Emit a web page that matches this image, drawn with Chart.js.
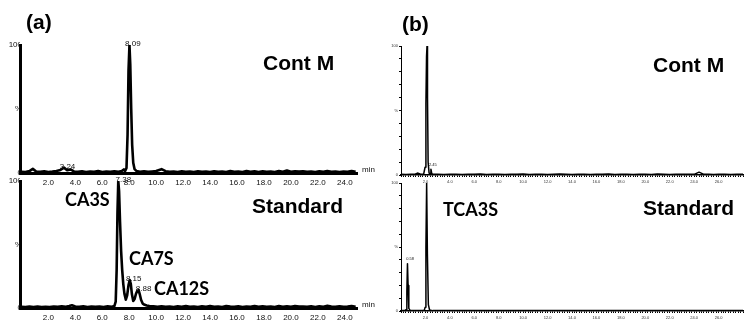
<!DOCTYPE html>
<html>
<head>
<meta charset="utf-8">
<script src="https://cdn.jsdelivr.net/npm/chart.js@4.4.1/dist/chart.umd.min.js"></script>
<style>
html,body{margin:0;padding:0;background:#fff;}
#wrap{position:relative;width:744px;height:327px;overflow:hidden;background:#fff;}
#wrap canvas{position:absolute;left:0;top:0;}
.lbl{position:absolute;white-space:nowrap;line-height:1;color:#000;}
.ar{font-family:"Liberation Sans",Arial,sans-serif;font-weight:bold;font-size:21px;}
.ca{font-family:Lato,"Open Sans",sans-serif;font-weight:bold;font-size:18px;}
</style>
</head>
<body>
<div id="wrap">
<canvas id="aTop" width="744" height="327"></canvas>
<canvas id="aBot" width="744" height="327"></canvas>
<canvas id="bTop" width="744" height="327"></canvas>
<canvas id="bBot" width="744" height="327"></canvas>
<div class="lbl ar" style="left:26px;top:11px;">(a)</div>
<div class="lbl ar" style="left:402px;top:13px;">(b)</div>
<div class="lbl ar" style="left:263px;top:52px;">Cont M</div>
<div class="lbl ar" style="left:252px;top:195px;">Standard</div>
<div class="lbl ar" style="left:653px;top:54px;">Cont M</div>
<div class="lbl ar" style="left:643px;top:197px;">Standard</div>
<div class="lbl ca" style="left:65px;top:190px;">CA3S</div>
<div class="lbl ca" style="left:129px;top:249px;">CA7S</div>
<div class="lbl ca" style="left:154px;top:279px;">CA12S</div>
<div class="lbl ca" style="left:443px;top:200px;">TCA3S</div>
</div>
<script>
// ---------- DATA ----------
// (a) Cont M chromatogram (time in min, signal in %)
const contA_time = [0,0.3,0.6,0.85,1.1,1.4,1.7,2.0,2.3,2.6,2.9,3.16,3.4,3.65,3.9,4.2,4.5,4.8,5.1,5.4,5.7,6.0,6.3,6.6,6.9,7.2,7.45,7.6,7.7,7.8,7.88,7.95,8.02,8.08,8.15,8.22,8.3,8.4,8.55,8.8,9.1,9.4,9.7,10.0,10.4,10.7,11.0,11.3,11.6,11.9,12.2,12.5,12.8,13.1,13.4,13.7,14.0,14.3,14.6,14.9,15.2,15.5,15.8,16.1,16.4,16.7,17.0,17.3,17.6,17.9,18.2,18.5,18.8,19.1,19.4,19.7,20.0,20.3,20.6,20.9,21.2,21.5,21.8,22.1,22.4,22.7,23.0,23.3,23.6,23.9,24.2,24.5,24.8];
const contA_signal = [1.0,0.8,1.5,3.2,1.2,0.9,1.3,0.8,1.1,1.6,2.4,4.2,2.2,2.8,1.2,0.9,1.4,0.8,1.2,0.9,1.5,0.8,1.2,0.9,1.4,1.0,1.6,2.8,1.5,4,30,80,100,85,50,22,8,3,1.5,1.0,1.3,0.9,1.2,1.5,3.0,1.4,0.9,1.2,0.8,1.3,0.9,1.1,0.7,1.3,0.9,1.2,0.8,1.4,0.9,1.1,0.8,1.5,0.9,1.2,0.8,1.6,1.0,1.3,0.8,1.4,1.0,1.2,0.8,1.5,1.0,1.9,0.9,1.4,1.1,1.3,0.9,1.2,0.8,1.3,0.9,1.6,1.0,1.2,0.8,1.1,0.9,1.6,1.0];
const contA_peakTimes = [8.09,3.24];
const contA_peakHeights = [100,4.2];

// (a) Standard chromatogram
const stdA_time = [0,0.3,0.6,0.9,1.2,1.5,1.8,2.1,2.4,2.7,3.0,3.3,3.55,3.75,4.0,4.3,4.6,4.9,5.2,5.5,5.8,6.1,6.4,6.7,6.9,7.0,7.07,7.13,7.19,7.25,7.32,7.4,7.48,7.56,7.65,7.75,7.85,7.95,8.04,8.12,8.2,8.3,8.4,8.5,8.6,8.7,8.78,8.88,9.0,9.15,9.3,9.5,9.8,10.1,10.4,10.7,11.0,11.3,11.6,11.9,12.2,12.5,12.8,13.1,13.4,13.7,14.0,14.3,14.6,14.9,15.2,15.5,15.8,16.1,16.4,16.7,17.0,17.3,17.6,17.9,18.2,18.5,18.8,19.1,19.4,19.7,20.0,20.3,20.6,20.9,21.2,21.5,21.8,22.1,22.4,22.7,23.0,23.3,23.6,23.9,24.2,24.5,24.8];
const stdA_signal = [0.9,0.7,1.1,0.8,1.2,0.7,1.0,0.8,1.2,0.9,1.3,1.0,1.6,2.2,1.2,0.9,1.3,0.8,1.1,0.9,1.2,0.8,1.3,1.0,1.5,5,30,75,100,92,68,45,30,19,11,6.5,10,18,22,19,11,5.5,7,11,13.5,14,11,6.5,3.5,2.5,2.0,1.6,1.3,1.0,1.4,0.9,1.2,0.8,1.3,1.0,1.5,0.9,1.2,0.8,1.4,1.0,1.6,0.9,1.2,0.8,1.5,1.1,0.9,1.4,0.8,1.2,1.0,1.6,0.9,1.3,1.0,1.2,0.8,1.5,1.0,1.3,0.9,1.6,1.1,1.2,0.9,1.4,0.8,1.3,1.0,1.7,1.2,0.9,1.4,1.0,1.2,1.6,1.0];
const stdA_peakTimes = [7.38,8.15,8.88];
const stdA_peakHeights = [100,22,14];

// (b) Cont M chromatogram
const contB_time = [0,0.4,0.8,1.1,1.39,1.6,1.85,1.97,2.04,2.09,2.13,2.17,2.22,2.3,2.38,2.45,2.52,2.65,3.0,3.5,4.0,4.5,5.0,5.5,6.0,6.5,7.0,7.5,8.0,8.5,9.0,9.5,10.0,10.5,11.0,11.5,12.0,12.5,13.0,13.5,14.0,14.5,15.0,15.5,16.0,16.5,17.0,17.5,18.0,18.5,19.0,19.5,20.0,20.5,21.0,21.5,22.0,22.5,23.0,23.5,24.0,24.4,24.8,25.2,25.6,26.0,26.5,27.0,27.5,28.0];
const contB_signal = [0.5,0.4,0.6,0.5,1.5,0.6,0.5,6,55,92,100,60,10,1.5,1.0,4.5,1.0,0.5,0.6,0.4,0.6,0.5,0.4,0.6,0.5,0.7,0.4,0.6,0.5,0.4,0.6,0.5,0.7,0.4,0.5,0.6,0.4,0.5,0.7,0.5,0.4,0.6,0.5,0.4,0.6,0.5,0.7,0.4,0.6,0.5,0.4,0.6,0.5,0.4,0.7,0.5,0.4,0.6,0.5,0.6,0.5,2.2,0.5,0.6,0.4,0.5,0.6,0.4,0.5,0.5];
const contB_peakTimes = [2.45];
const contB_peakHeights = [4.5];

// (b) Standard chromatogram
const stdB_time = [0,0.3,0.42,0.48,0.53,0.58,0.64,0.75,1.0,1.5,1.9,1.98,2.04,2.1,2.16,2.24,2.34,2.6,3.0,3.5,4.0,5.0,6.0,7.0,8.0,9.0,10.0,11.0,12.0,13.0,14.0,15.0,16.0,17.0,18.0,19.0,20.0,21.0,22.0,23.0,24.0,25.0,26.0,27.0,28.0];
const stdB_signal = [0.3,0.3,1,15,37,20,2,0.5,0.3,0.3,0.4,3,50,100,45,5,0.8,0.3,0.3,0.4,0.3,0.4,0.3,0.4,0.3,0.4,0.3,0.4,0.3,0.4,0.3,0.4,0.3,0.4,0.3,0.4,0.3,0.4,0.3,0.4,0.3,0.4,0.3,0.4,0.3];
const stdB_peakTimes = [0.58];
const stdB_peakHeights = [37];

// axis tick label values
const aTimeLabels = [2,4,6,8,10,12,14,16,18,20,22,24];
const bTimeLabels = [2,4,6,8,10,12,14,16,18,20,22,24,26];

// ---------- RENDERING ----------
const PAGE_W = 744, PAGE_H = 327;
const ARIAL = '"Liberation Sans", Arial, sans-serif';

const peakLabels = {
  id: 'peakLabels',
  afterDatasetsDraw(chart, args, o) {
    const {ctx, chartArea} = chart;
    const x = chart.scales.x, y = chart.scales.y;
    ctx.save();
    ctx.fillStyle = '#111';
    ctx.font = o.size + 'px ' + ARIAL;
    ctx.textAlign = 'center';
    ctx.textBaseline = 'middle';
    o.times.forEach((t, i) => {
      ctx.fillText(t.toFixed(2), x.getPixelForValue(t) + o.dx, y.getPixelForValue(o.heights[i]) + o.dy);
    });
    if (o.unit) {
      ctx.textAlign = 'left';
      ctx.font = '8px ' + ARIAL;
      ctx.fillText(o.unit, chartArea.right + 5, chartArea.bottom - 3);
    }
    ctx.restore();
  }
};

function isLabeled(v, list) {
  return list.some(l => Math.abs(l - v) < 1e-6);
}

function makeChart(id, times, signal, peakT, peakH, s) {
  const yW = 20, xH = 14;
  const pts = times.map((t, i) => ({x: t, y: signal[i]}));
  return new Chart(document.getElementById(id), {
    type: 'line',
    data: {datasets: [{data: pts, borderColor: '#000', borderWidth: s.lw, pointRadius: 0, tension: 0, fill: false, borderJoinStyle: 'round'}]},
    options: {
      responsive: false, animation: false, devicePixelRatio: 1,
      layout: {padding: {left: s.area.left - yW, top: s.area.top, right: PAGE_W - s.area.right, bottom: PAGE_H - s.area.bottom - xH}},
      plugins: {legend: {display: false}, tooltip: {enabled: false},
        peakLabels: {times: peakT, heights: peakH, size: s.peakSize, dx: s.dx, dy: s.dy, unit: s.unit}},
      scales: {
        x: {type: 'linear', min: s.xmin, max: s.xmax,
          border: {display: true, color: '#000', width: s.xBorder},
          grid: {drawOnChartArea: false, drawTicks: true, tickLength: 2, color: '#000'},
          afterBuildTicks: sc => { sc.ticks = s.xTicks.map(v => ({value: v})); },
          ticks: {autoSkip: false, maxRotation: 0, minRotation: 0, padding: s.xPad,
            color: s.tickColor, font: {family: ARIAL, size: s.tickSize},
            callback: v => isLabeled(v, s.xLabels) ? v.toFixed(1) : ''},
          afterFit: sc => { sc.height = xH; sc.paddingLeft = 0; sc.paddingRight = 0; }
        },
        y: {type: 'linear', min: 0, max: 100,
          border: {display: true, color: '#000', width: s.yBorder},
          grid: {drawOnChartArea: false, drawTicks: true, tickLength: s.yTick, color: '#000'},
          ticks: {stepSize: s.yStep, autoSkip: false, padding: s.yPad, color: s.tickColor, font: {family: ARIAL, size: s.tickSize},
            callback: v => v === 100 ? '100' : (v === 50 ? '%' : (v === 0 ? '0' : ''))},
          afterFit: sc => { sc.width = yW; sc.paddingTop = 0; sc.paddingBottom = 0; }
        }
      }
    },
    plugins: [peakLabels]
  });
}

// tick positions: (a) every 2 min, (b) minor ticks every 0.2 min
const aTicks = [0].concat(aTimeLabels);
const bTicks = [];
for (let i = 0; i <= 140; i++) bTicks.push(Math.round(i * 2) / 10);

const styleA = {xmin: -0.1, xmax: 24.9, xTicks: aTicks, xLabels: aTimeLabels, lw: 2.6, xBorder: 3, yBorder: 3, yTick: 0, yStep: 50, yPad: -2,
  tickSize: 8, tickColor: '#111', xPad: 3, peakSize: 8, dx: 2.5, dy: -1, unit: 'min'};
const styleB = {xmin: 0, xmax: 28, xTicks: bTicks, xLabels: bTimeLabels, lw: 1.5, xBorder: 1.5, yBorder: 1, yTick: 2, yStep: 10, yPad: 1,
  tickSize: 4, tickColor: '#333', xPad: 2, peakSize: 4, dx: 2, dy: -4.5, unit: null};

makeChart('aTop', contA_time, contA_signal, contA_peakTimes, contA_peakHeights, Object.assign({}, styleA, {area: {left: 20, right: 357, top: 45, bottom: 173}}));
makeChart('aBot', stdA_time, stdA_signal, stdA_peakTimes, stdA_peakHeights, Object.assign({}, styleA, {area: {left: 20, right: 357, top: 181, bottom: 308}}));
makeChart('bTop', contB_time, contB_signal, contB_peakTimes, contB_peakHeights, Object.assign({}, styleB, {area: {left: 401, right: 743, top: 46, bottom: 175}}));
makeChart('bBot', stdB_time, stdB_signal, stdB_peakTimes, stdB_peakHeights, Object.assign({}, styleB, {area: {left: 401, right: 743, top: 183, bottom: 311}}));
</script>
</body>
</html>
